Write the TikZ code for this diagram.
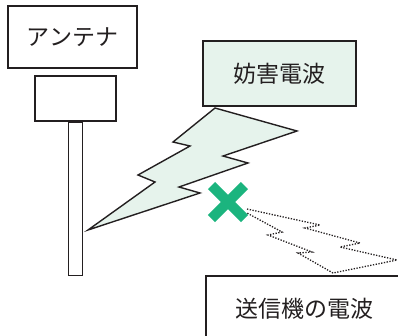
\documentclass[tikz,border=0pt]{standalone}
\usepackage{fontspec}
\newfontfamily\jpfont{Noto Sans CJK JP}
\definecolor{ink}{HTML}{231F20}
\definecolor{mint}{HTML}{E6F3EC}
\definecolor{signal}{HTML}{1BB47E}
\begin{document}
\begin{tikzpicture}[x=1pt,y=-1pt,
  outline/.style={draw=ink, line width=1.4pt},
  labelbox/.style={outline, rectangle, inner sep=0pt, text=ink,
    font=\jpfont\fontsize{23}{23}\selectfont},
  bolt/.style={outline, fill=mint, line join=miter},
  weakbolt/.style={draw=ink, line width=1.3pt, dash pattern=on 1.3pt off 1.5pt},
  blocked/.style={draw=signal, line width=10pt}]
\useasboundingbox (0,0) rectangle (398,335);
\clip (0,0) rectangle (398,335);

% antenna: label, head and mast
\node[labelbox, minimum width=129pt, minimum height=62pt] (ant) at (72.5,37) {アンテナ};
\node[outline, rectangle, minimum width=81pt, minimum height=45pt] (head) at (75.5,98.5) {};
\node[outline, rectangle, minimum width=14pt, minimum height=153pt, anchor=north] (mast) at (head.south) {};

% interfering signal
\node[labelbox, fill=mint, minimum width=153pt, minimum height=65pt] (noise) at (279.5,73.5) {妨害電波};
\draw[bolt] (215,108) -- (297,131) -- (223,156) -- (248,163) -- (179,187)
  -- (200,193) -- (88,230) -- (155,182) -- (138,175) -- (190,146)
  -- (173,142) -- cycle;

% transmitter signal, cut off
\node[labelbox, fill=white, minimum width=196pt, minimum height=66pt] (tx) at (304,309) {送信機の電波};
\coordinate (xm) at (228,202);
\draw[weakbolt] (247,209) -- (320,225) -- (305,228) -- (360,243) -- (340,247)
  -- (397,260) -- (333,273) -- (298,253) -- (312,252) -- (268,235)
  -- (282,232) -- (247,213);
\draw[blocked] (xm) ++(-16.5,-16.5) -- ++(33,33);
\draw[blocked] (xm) ++(16.5,-16.5) -- ++(-33,33);
\end{tikzpicture}
\end{document}
